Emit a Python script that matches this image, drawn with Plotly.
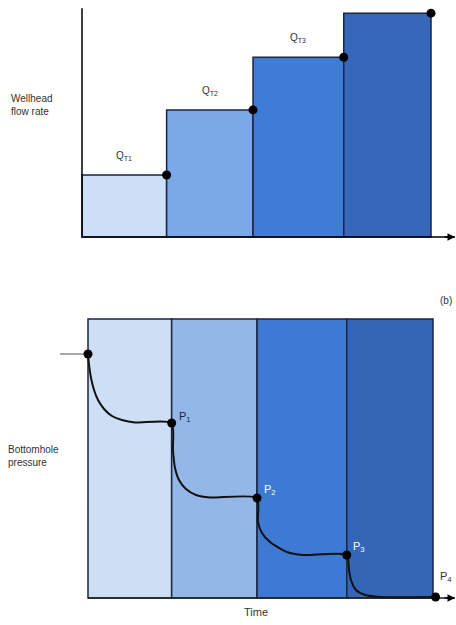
import plotly.graph_objects as go

# ---------------- data ----------------
t_edges = [0, 0.97, 1.96, 3.0, 4.0]           # step boundaries in time
q_rates = [1.0, 2.05, 2.9, 3.61]               # wellhead flow rate per step
q_labels = ["Q<sub>T1</sub>", "Q<sub>T2</sub>", "Q<sub>T3</sub>"]
shade_top = [5.58, 5.58, 5.58, 5.58]           # shaded periods in pressure panel
p_times = [0, 0.97, 1.96, 3.0, 4.03]
p_values = [4.88, 3.5, 2.0, 0.86, 0.02]        # bottomhole pressure at step ends
p_labels = ["P<sub>1</sub>", "P<sub>2</sub>", "P<sub>3</sub>", "P<sub>4</sub>"]
curve_t = [0, 0.012, 0.035, 0.07, 0.116, 0.186, 0.278, 0.394, 0.545, 0.97,
           0.985, 1.009, 1.055, 1.136, 1.252, 1.414, 1.96,
           1.971, 2.017, 2.11, 2.307, 2.493, 3.0,
           3.026, 3.049, 3.107, 3.212, 3.386, 4.03]
curve_p = [4.88, 4.66, 4.40, 4.16, 3.96, 3.78, 3.64, 3.56, 3.51, 3.5,
           2.96, 2.60, 2.36, 2.18, 2.06, 2.01, 2.0,
           1.52, 1.30, 1.12, 0.92, 0.86, 0.86,
           0.56, 0.36, 0.16, 0.06, 0.02, 0.02]
p_initial_lead = -0.325

top_colors = ["#cddff6", "#7ba8e6", "#3f7cd6", "#3767bb"]
bot_colors = ["#cddff5", "#93b8e8", "#3e7ad3", "#3565b5"]
edge = "#1b2440"

W, H = 456, 625
centers = [(t_edges[i] + t_edges[i + 1]) / 2 for i in range(4)]
widths = [t_edges[i + 1] - t_edges[i] for i in range(4)]

fig = go.Figure()

# top panel: flow rate steps
fig.add_trace(go.Bar(x=centers, y=q_rates, width=widths, base=0,
                     marker=dict(color=top_colors, line=dict(color=edge, width=1.5)),
                     xaxis="x", yaxis="y", showlegend=False))
fig.add_trace(go.Scatter(x=t_edges[1:], y=q_rates, mode="markers",
                         marker=dict(color="black", size=9),
                         xaxis="x", yaxis="y", showlegend=False))
# axes lines (top)
fig.add_trace(go.Scatter(x=[0, 0, 4.275], y=[3.69, 0, 0], mode="lines",
                         line=dict(color="black", width=1.5),
                         xaxis="x", yaxis="y", showlegend=False))

# bottom panel: pressure
fig.add_trace(go.Bar(x=centers, y=shade_top, width=widths, base=0,
                     marker=dict(color=bot_colors, line=dict(color=edge, width=1.5)),
                     xaxis="x2", yaxis="y2", showlegend=False))
fig.add_trace(go.Scatter(x=[0, 4.255], y=[0, 0], mode="lines",
                         line=dict(color="#222", width=1.5),
                         xaxis="x2", yaxis="y2", showlegend=False))
fig.add_trace(go.Scatter(x=[p_initial_lead, 0], y=[p_values[0], p_values[0]], mode="lines",
                         line=dict(color="#555", width=1.2),
                         xaxis="x2", yaxis="y2", showlegend=False))
fig.add_trace(go.Scatter(x=curve_t, y=curve_p, mode="lines",
                         line=dict(color="#111", width=2, shape="spline", smoothing=0.6),
                         xaxis="x2", yaxis="y2", showlegend=False))
fig.add_trace(go.Scatter(x=p_times, y=p_values, mode="markers",
                         marker=dict(color="black", size=9),
                         xaxis="x2", yaxis="y2", showlegend=False))

# axis scales: full-domain mapping
fig.update_layout(
    width=W, height=H, margin=dict(l=0, r=0, t=0, b=0),
    paper_bgcolor="white", plot_bgcolor="rgba(0,0,0,0)",
    xaxis=dict(domain=[0, 1], range=[-82 / 87.25, (W - 82) / 87.25], visible=False, fixedrange=True),
    yaxis=dict(domain=[0.5, 1], range=[(237 - 312.5) / 62, 237 / 62], visible=False, fixedrange=True),
    xaxis2=dict(domain=[0, 1], range=[-88 / 86.25, (W - 88) / 86.25], visible=False, fixedrange=True),
    yaxis2=dict(domain=[0, 0.5], range=[(598 - 625) / 50, (598 - 312.5) / 50], visible=False, fixedrange=True),
    barmode="overlay",
    font=dict(family="Liberation Sans, Arial, sans-serif", color="#333", size=10),
)

ann = []
for i, lab in enumerate(q_labels):
    ann.append(dict(x=centers[i], y=q_rates[i], xref="x", yref="y", text=lab,
                    showarrow=False, yshift=19, font=dict(size=10, color="#333")))
p_shift = [(13, 6), (13, 8), (12, 8), (10, 20)]
p_colors = ["#1b2440", "white", "white", "#333"]
for i, lab in enumerate(p_labels):
    ann.append(dict(x=p_times[i + 1], y=p_values[i + 1], xref="x2", yref="y2", text=lab,
                    showarrow=False, xshift=p_shift[i][0], yshift=p_shift[i][1],
                    font=dict(size=11, color=p_colors[i])))
# arrows on time axes
ann.append(dict(x=4.275, y=0, xref="x", yref="y", ax=-12, ay=0, text="", showarrow=True,
                arrowhead=2, arrowsize=1, arrowwidth=1.5, arrowcolor="black", standoff=0))
ann.append(dict(x=4.255, y=0, xref="x2", yref="y2", ax=-12, ay=0, text="", showarrow=True,
                arrowhead=2, arrowsize=1, arrowwidth=1.5, arrowcolor="black", standoff=0))
# texts
ann.append(dict(x=9 / W, y=1 - 105 / H, xref="paper", yref="paper", xanchor="left", yanchor="middle",
                text="Wellhead<br>flow rate", showarrow=False, align="left",
                font=dict(size=10, color="#333")))
ann.append(dict(x=6 / W, y=1 - 456 / H, xref="paper", yref="paper", xanchor="left", yanchor="middle",
                text="Bottomhole<br>pressure", showarrow=False, align="left",
                font=dict(size=10, color="#333")))
ann.append(dict(x=446 / W, y=1 - 300 / H, xref="paper", yref="paper", xanchor="center", yanchor="middle",
                text="(b)", showarrow=False, font=dict(size=10, color="#333")))
ann.append(dict(x=256 / W, y=1 - 612 / H, xref="paper", yref="paper", xanchor="center", yanchor="middle",
                text="Time", showarrow=False, font=dict(size=11, color="#333")))
fig.update_layout(annotations=ann)

fig.write_html("out.html", config={"displayModeBar": False},
               post_script="document.body.style.margin='0px';document.body.style.overflow='hidden';")
